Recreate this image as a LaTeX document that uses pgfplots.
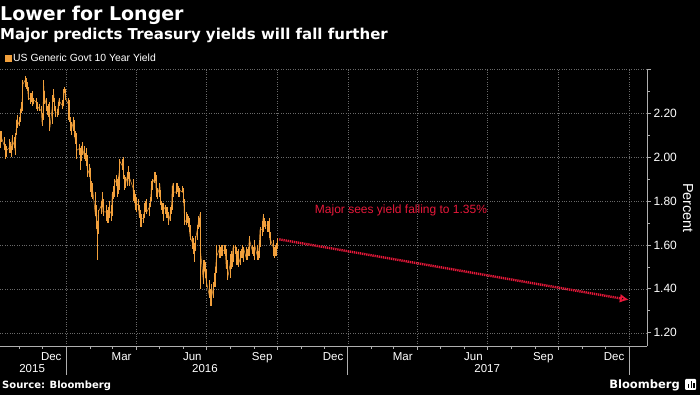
\documentclass[border=0pt]{standalone}
\usepackage{pgfplots}
\usepackage{pgfplotstable}
\pgfplotsset{compat=1.18}
\usepackage{fontspec}
\setmainfont{Liberation Sans}
\newfontfamily\dvs{DejaVu Sans}
\usetikzlibrary{arrows.meta}
\definecolor{bborange}{RGB}{242,160,60}
\definecolor{bbred}{RGB}{232,24,58}
\definecolor{gridc}{RGB}{105,105,105}
\definecolor{axisc}{RGB}{175,175,175}

\pgfplotstableread{
d c lo hi
-86 2.05 2.03 2.08
-85 2.11 2.04 2.12
-84 2.09 2.07 2.12
-80 2.05 2.03 2.09
-79 2.03 2.00 2.06
-78 2.02 1.99 2.05
-77 2.03 2.00 2.05
-74 2.04 2.02 2.06
-73 2.06 2.03 2.08
-72 2.03 2.02 2.07
-71 2.03 2.00 2.05
-70 2.08 2.03 2.10
-67 2.05 2.04 2.09
-66 2.03 2.01 2.06
-65 2.10 2.02 2.11
-64 2.17 2.10 2.17
-63 2.14 2.13 2.19
-60 2.17 2.14 2.18
-59 2.21 2.16 2.22
-58 2.23 2.20 2.25
-57 2.25 2.21 2.26
-56 2.33 2.23 2.35
-53 2.35 2.32 2.37
-52 2.33 2.31 2.36
-50 2.32 2.30 2.34
-49 2.27 2.26 2.32
-46 2.26 2.24 2.29
-45 2.27 2.25 2.29
-44 2.27 2.25 2.30
-43 2.24 2.23 2.28
-42 2.26 2.24 2.27
-39 2.25 2.24 2.27
-38 2.24 2.22 2.27
-37 2.23 2.21 2.25
-35 2.22 2.21 2.24
-32 2.21 2.20 2.23
-31 2.15 2.14 2.20
-30 2.18 2.14 2.19
-29 2.33 2.17 2.35
-28 2.27 2.24 2.30
-25 2.23 2.21 2.27
-24 2.22 2.19 2.23
-23 2.22 2.18 2.24
-22 2.23 2.20 2.25
-21 2.13 2.12 2.22
-18 2.22 2.15 2.23
-17 2.27 2.22 2.28
-16 2.29 2.25 2.31
-15 2.24 2.21 2.27
-14 2.20 2.18 2.23
-11 2.20 2.18 2.22
-10 2.24 2.19 2.25
-9 2.26 2.23 2.27
-8 2.25 2.24 2.27
-4 2.23 2.22 2.26
-3 2.30 2.23 2.31
-2 2.31 2.29 2.32
-1 2.27 2.26 2.31
3 2.24 2.17 2.27
4 2.24 2.22 2.26
5 2.17 2.16 2.24
6 2.15 2.12 2.18
7 2.12 2.10 2.16
10 2.17 2.12 2.18
11 2.10 2.09 2.17
12 2.08 2.06 2.12
13 2.09 2.03 2.11
14 2.03 1.99 2.07
18 2.04 2.01 2.06
19 1.98 1.94 2.04
20 2.02 1.98 2.05
21 2.05 2.01 2.07
24 2.00 1.99 2.05
25 2.00 1.98 2.02
26 2.00 1.98 2.04
27 1.99 1.96 2.01
28 1.92 1.91 2.01
31 1.95 1.91 1.97
32 1.85 1.84 1.95
33 1.88 1.82 1.89
34 1.83 1.81 1.88
35 1.84 1.81 1.88
38 1.74 1.73 1.84
39 1.73 1.67 1.76
40 1.71 1.69 1.78
41 1.63 1.53 1.71
42 1.75 1.65 1.76
46 1.78 1.74 1.80
47 1.81 1.77 1.84
48 1.75 1.74 1.81
49 1.75 1.73 1.78
52 1.75 1.73 1.78
53 1.74 1.71 1.76
54 1.74 1.70 1.76
55 1.71 1.70 1.77
56 1.76 1.72 1.80
59 1.74 1.71 1.78
60 1.83 1.73 1.84
61 1.84 1.81 1.87
62 1.83 1.82 1.87
63 1.88 1.82 1.90
66 1.90 1.87 1.92
67 1.83 1.82 1.90
68 1.90 1.83 1.91
69 1.93 1.85 1.95
70 1.98 1.93 1.99
73 1.96 1.94 1.99
74 1.97 1.94 2.00
75 1.91 1.90 1.98
76 1.90 1.85 1.92
77 1.87 1.86 1.91
80 1.92 1.87 1.93
81 1.94 1.90 1.96
82 1.88 1.87 1.93
83 1.90 1.87 1.92
87 1.86 1.84 1.90
88 1.81 1.80 1.87
89 1.83 1.79 1.85
90 1.77 1.76 1.83
91 1.79 1.75 1.82
94 1.78 1.76 1.81
95 1.73 1.72 1.78
96 1.76 1.72 1.77
97 1.69 1.68 1.76
98 1.72 1.68 1.74
101 1.72 1.70 1.74
102 1.77 1.72 1.79
103 1.76 1.75 1.80
104 1.79 1.75 1.81
105 1.75 1.74 1.80
108 1.77 1.76 1.79
109 1.77 1.73 1.78
110 1.80 1.77 1.82
111 1.88 1.80 1.89
112 1.88 1.85 1.90
115 1.90 1.88 1.93
116 1.92 1.89 1.93
117 1.85 1.84 1.92
118 1.85 1.82 1.86
119 1.83 1.81 1.86
122 1.87 1.82 1.88
123 1.79 1.78 1.85
124 1.78 1.76 1.80
125 1.76 1.74 1.79
126 1.78 1.71 1.79
129 1.76 1.74 1.78
130 1.75 1.73 1.77
131 1.74 1.72 1.77
132 1.75 1.72 1.77
133 1.70 1.69 1.75
136 1.75 1.71 1.77
137 1.76 1.74 1.78
138 1.87 1.76 1.87
139 1.85 1.84 1.88
140 1.84 1.82 1.86
143 1.84 1.83 1.86
144 1.86 1.84 1.88
145 1.87 1.84 1.88
146 1.83 1.82 1.87
147 1.85 1.82 1.86
151 1.84 1.84 1.87
152 1.85 1.80 1.86
153 1.80 1.79 1.85
154 1.70 1.69 1.81
157 1.72 1.69 1.75
158 1.72 1.70 1.74
159 1.71 1.68 1.73
160 1.68 1.66 1.72
161 1.64 1.62 1.69
164 1.61 1.58 1.64
165 1.61 1.57 1.63
166 1.58 1.56 1.62
167 1.57 1.52 1.61
168 1.62 1.57 1.64
171 1.68 1.62 1.69
172 1.71 1.67 1.73
173 1.69 1.68 1.72
174 1.74 1.70 1.75
175 1.56 1.40 1.71
178 1.45 1.42 1.53
179 1.47 1.44 1.49
180 1.50 1.48 1.53
181 1.47 1.45 1.52
182 1.44 1.41 1.49
186 1.37 1.36 1.44
187 1.37 1.32 1.40
188 1.38 1.36 1.40
189 1.36 1.32 1.42
192 1.42 1.36 1.43
193 1.42 1.41 1.47
194 1.48 1.41 1.50
195 1.53 1.47 1.54
196 1.55 1.52 1.60
199 1.58 1.54 1.60
200 1.55 1.54 1.59
201 1.57 1.54 1.58
202 1.56 1.55 1.60
203 1.57 1.55 1.60
206 1.58 1.56 1.60
207 1.56 1.55 1.60
208 1.50 1.49 1.58
209 1.52 1.49 1.53
210 1.45 1.44 1.53
213 1.51 1.45 1.52
214 1.55 1.50 1.56
215 1.50 1.49 1.57
216 1.55 1.50 1.56
217 1.59 1.52 1.60
220 1.59 1.56 1.60
221 1.55 1.53 1.59
222 1.51 1.51 1.56
223 1.56 1.51 1.57
224 1.51 1.50 1.58
227 1.55 1.51 1.57
228 1.57 1.54 1.58
229 1.55 1.54 1.60
230 1.54 1.53 1.57
231 1.58 1.52 1.59
234 1.54 1.53 1.59
235 1.55 1.53 1.57
236 1.56 1.55 1.58
237 1.57 1.55 1.59
238 1.63 1.55 1.64
242 1.57 1.56 1.60
243 1.58 1.55 1.59
244 1.57 1.55 1.59
245 1.60 1.53 1.62
249 1.54 1.53 1.60
250 1.54 1.53 1.57
251 1.61 1.54 1.62
252 1.67 1.59 1.68
255 1.67 1.64 1.71
256 1.73 1.66 1.74
257 1.70 1.69 1.73
258 1.69 1.68 1.72
259 1.69 1.67 1.71
262 1.69 1.66 1.71
263 1.69 1.66 1.71
264 1.66 1.63 1.72
265 1.62 1.61 1.66
266 1.62 1.60 1.64
269 1.59 1.57 1.62
270 1.56 1.55 1.59
271 1.56 1.54 1.59
272 1.56 1.55 1.60
273 1.59 1.55 1.61
275 1.62 1.58 1.63
}\yld

\begin{document}
\begin{tikzpicture}
\fill[black] (0,0) rectangle (700pt,395pt);
\path[use as bounding box] (0,0) rectangle (700pt,395pt);
\begin{axis}[
  at={(0pt,49pt)}, anchor=south west,
  scale only axis, width=647pt, height=277pt,
  xmin=-85.7, xmax=754.5, ymin=1.14, ymax=2.40,
  axis x line*=bottom, axis y line*=right,
  axis line style={axisc, line width=0.8pt},
  every tick/.style={axisc, line width=0.7pt},
  tick align=outside,
  major tick length=4pt, minor tick length=3pt,
  xtick={0,91,182,274,366,456,547,639,731},
  xticklabels={Dec,Mar,Jun,Sep,Dec,Mar,Jun,Sep,Dec},
  minor xtick={-61,-31,31,60,121,152,213,244,305,335,397,425,486,517,578,609,670,700},
  ytick={1.2,1.4,1.6,1.8,2.0,2.2,2.4},
  yticklabels={1.20,1.40,1.60,1.80,2.00,2.20,{}},
  minor ytick={1.3,1.5,1.7,1.9,2.1,2.3},
  xmajorgrids, ymajorgrids,
  major grid style={gridc, dotted, line width=0.6pt},
  x tick label style={font=\fontsize{11.5}{12}\selectfont, text=white, anchor=north east, xshift=-1pt, yshift=1pt},
  y tick label style={font=\fontsize{12}{12}\selectfont, text=white, anchor=west, xshift=-1pt},
  clip=false,
]
\addplot[bborange, line width=0.5pt,
  error bars/.cd, y dir=both, y explicit, error mark=none,
  error bar style={bborange, line width=0.9pt}]
  table[x=d, y=c, y error plus expr=\thisrow{hi}-\thisrow{c}, y error minus expr=\thisrow{c}-\thisrow{lo}] {\yld};
\addplot[bbred, line width=2.4pt, dash pattern=on 1.3pt off 0.8pt, -{Latex[open,length=9pt,width=9pt]}]
  coordinates {(277,1.625) (731,1.35)};
\node[bbred, font=\fontsize{12}{14}\selectfont] at (axis cs:435,1.755) {Major sees yield falling to 1.35\%};
\draw[axisc, line width=0.8pt] (axis cs:0,1.14) -- ++(0pt,-29pt);
\draw[axisc, line width=0.8pt] (axis cs:366,1.14) -- ++(0pt,-29pt);
\draw[axisc, line width=0.8pt] (axis cs:731,1.14) -- ++(0pt,-29pt);
\node[white, font=\fontsize{11.5}{12}\selectfont] at ([yshift=-23pt]axis cs:-44,1.14) {2015};
\node[white, font=\fontsize{11.5}{12}\selectfont] at ([yshift=-23pt]axis cs:180.5,1.14) {2016};
\node[white, font=\fontsize{11.5}{12}\selectfont] at ([yshift=-23pt]axis cs:547,1.14) {2017};
\end{axis}
\node[anchor=base west, white, inner sep=0pt, font=\dvs\bfseries\fontsize{19}{20}\selectfont] at (0pt,374pt) {Lower for Longer};
\node[anchor=base west, white, inner sep=0pt, font=\dvs\bfseries\fontsize{15}{16}\selectfont] at (0pt,355pt) {Major predicts Treasury yields will fall further};
\fill[bborange] (5pt,333pt) rectangle (11.5pt,339.5pt);
\node[anchor=base west, white, inner sep=0pt, font=\fontsize{10.4}{12}\selectfont] at (13pt,333pt) {US Generic Govt 10 Year Yield};
\node[rotate=-90, white, font=\fontsize{14.5}{15}\selectfont] at (688pt,187pt) {Percent};
\node[anchor=base west, white, inner sep=0pt, font=\dvs\bfseries\fontsize{10}{11}\selectfont] at (2pt,6pt) {Source: Bloomberg};
\node[anchor=base east, white, inner sep=0pt, font=\dvs\bfseries\fontsize{11.5}{12}\selectfont] at (680pt,6pt) {Bloomberg};
\fill[white, rounded corners=1pt] (685pt,5pt) rectangle (696pt,16pt);
\fill[black] (687.5pt,7pt) rectangle (689pt,11pt);
\fill[black] (690.5pt,7pt) rectangle (692pt,14pt);
\fill[black] (693pt,7pt) rectangle (694.5pt,12pt);
\end{tikzpicture}
\end{document}
